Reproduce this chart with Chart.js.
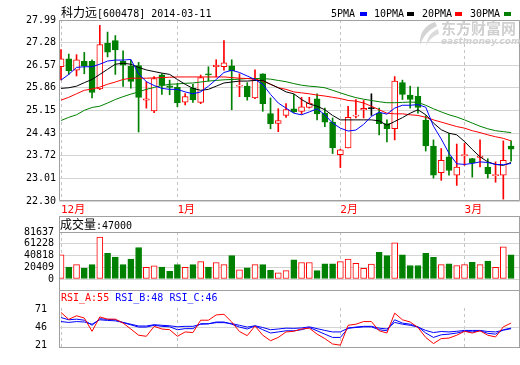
<!DOCTYPE html>
<html>
<head>
<meta charset="utf-8">
<script src="https://cdn.jsdelivr.net/npm/chart.js@4.4.0/dist/chart.umd.min.js"></script>
<style>
  body { margin: 0; background: #fff; }
  #wrap { position: relative; width: 520px; height: 365px; overflow: hidden; }
  canvas { position: absolute; left: 0; }
  .t { position: absolute; font-family: "DejaVu Sans Mono", "Noto Sans CJK SC", monospace; font-size: 10px; line-height: 12px; white-space: pre; color: #000; z-index: 2; }
  .cjk { font-family: "Noto Sans CJK SC"; font-size: 12px; }
  .mk { position: absolute; top: 12px; width: 7px; height: 4px; z-index: 10; }
</style>
</head>
<body>
<div id="wrap">
  <canvas id="price" width="520" height="216" style="top:0"></canvas>
  <canvas id="vol" width="520" height="74" style="top:216px"></canvas>
  <canvas id="rsi" width="520" height="75" style="top:290px"></canvas>

  <div class="t" style="left:61px;top:6px"><span class="cjk">科力远</span>[600478] 2014-03-11</div>

  <div class="t" style="left:331px;top:8px">5PMA</div>
  <div class="t" style="left:374px;top:8px">10PMA</div>
  <div class="t" style="left:422px;top:8px">20PMA</div>
  <div class="t" style="left:470px;top:8px">30PMA</div>
  <div class="mk" style="left:504px;background:#008000"></div>

  <svg style="position:absolute;left:415px;top:21px;z-index:1" width="24" height="26" viewBox="0 0 24 26">
    <path d="M20 1 C10 4 4 12 5 24 C8 16 13 9 22 5 Z" fill="#d4d4d4"/>
    <path d="M23 8 C16 11 12 16 11 25 C14 19 18 15 24 13 Z" fill="#dcdcdc"/>
  </svg>
  <div style="position:absolute;left:441px;top:20px;font:bold 15px 'Noto Sans CJK SC';color:#d0d0d0;line-height:16px;z-index:1">东方财富网</div>
  <div style="position:absolute;left:441px;top:36px;font:italic bold 9px 'DejaVu Sans';color:#d0d0d0;line-height:10px;z-index:1">eastmoney.com</div>

  <div class="t" style="left:60px;top:218px"><span class="cjk">成交量</span>:47000</div>
  <div class="t" style="left:61px;top:292px"><span style="color:#ff0000">RSI_A:55</span> <span style="color:#0000ff">RSI_B:48</span> <span style="color:#0000ff">RSI_C:46</span></div>
</div>

<script>
// 科力远 日K 2013-12-11 ~ 2014-03-11
const opens = [26.52, 26.77, 26.41, 26.69, 26.69, 25.82, 27.26, 27.34, 26.69, 26.54,
  26.56, 25.47, 25.13, 26.27, 25.92, 25.87, 25.41, 25.85, 25.40, 26.30,
  26.52, 26.52, 26.55, 25.91, 25.91, 25.54, 26.30, 25.05, 24.74, 24.99,
  25.20, 25.12, 25.24, 25.51, 25.06, 24.78, 23.76, 23.97, 24.97, 25.16,
  25.22, 25.06, 24.73, 24.57, 26.02, 25.63, 25.59, 24.84, 24.03, 23.19,
  23.69, 23.11, 23.72, 23.63, 23.67, 23.37, 23.10, 23.11, 24.03];
const closes = [26.77, 26.39, 26.74, 26.55, 25.71, 27.22, 26.98, 27.05, 26.57, 26.06,
  25.56, 25.51, 26.15, 25.93, 25.87, 25.39, 25.58, 25.48, 26.18, 26.26,
  26.57, 26.64, 26.39, 25.94, 25.57, 26.14, 25.36, 24.73, 24.83, 25.17,
  25.10, 25.26, 25.38, 25.04, 24.78, 23.97, 23.91, 24.93, 25.00, 25.21,
  25.22, 24.73, 24.57, 26.07, 25.65, 25.49, 25.24, 24.03, 23.11, 23.58,
  23.26, 23.37, 23.76, 23.50, 23.71, 23.16, 23.13, 23.58, 23.93];
const highs = [27.06, 26.92, 26.90, 26.97, 26.74, 27.82, 27.61, 27.50, 27.02, 26.73,
  26.66, 26.05, 26.21, 26.30, 26.10, 26.00, 25.68, 25.97, 26.26, 26.52,
  26.74, 27.34, 26.74, 26.30, 26.02, 26.42, 26.30, 25.54, 25.20, 25.36,
  25.65, 25.56, 25.56, 25.67, 25.22, 24.91, 23.93, 25.28, 25.49, 25.46,
  25.67, 25.22, 24.85, 26.21, 26.10, 25.91, 25.88, 24.98, 24.22, 23.95,
  24.43, 24.09, 24.11, 23.64, 24.22, 23.63, 23.53, 24.19, 24.19];
const lows = [26.11, 26.28, 26.23, 26.30, 25.54, 25.80, 26.83, 26.28, 25.90, 25.85,
  24.47, 25.22, 25.08, 25.65, 25.64, 25.26, 25.32, 25.40, 25.36, 26.07,
  26.20, 26.41, 25.17, 25.58, 25.47, 25.52, 25.12, 24.57, 24.48, 24.93,
  25.08, 25.03, 25.22, 24.85, 24.64, 23.79, 23.35, 23.97, 24.91, 24.91,
  24.99, 24.38, 24.16, 24.22, 25.49, 25.22, 25.06, 23.87, 23.02, 22.95,
  23.11, 22.79, 23.42, 23.05, 23.37, 23.02, 22.89, 22.36, 23.55];

const ma5 = [26.10, 26.28, 26.50, 26.52, 26.52, 26.60, 26.70, 26.73, 26.73, 26.75,
  26.30, 26.05, 25.93, 25.84, 25.81, 25.81, 25.73, 25.67, 25.73, 25.91,
  26.12, 26.34, 26.41, 26.34, 26.23, 26.12, 25.97, 25.65, 25.38, 25.22,
  25.06, 25.01, 25.10, 25.20, 25.01, 24.75, 24.59, 24.50, 24.53, 24.71,
  24.96, 25.09, 25.03, 25.22, 25.31, 25.31, 25.33, 25.25, 24.65, 24.25,
  23.80, 23.47, 23.45, 23.48, 23.53, 23.51, 23.45, 23.44, 23.48];
const ma10 = [25.84, 25.86, 25.91, 26.02, 26.12, 26.28, 26.44, 26.60, 26.63, 26.60,
  26.50, 26.42, 26.37, 26.32, 26.28, 26.12, 25.97, 25.84, 25.78, 25.81,
  25.91, 26.01, 26.04, 26.07, 26.07, 26.09, 26.09, 25.97, 25.86, 25.73,
  25.67, 25.49, 25.35, 25.28, 25.17, 24.99, 24.85, 24.85, 24.85, 24.85,
  24.85, 24.82, 24.68, 24.80, 24.92, 25.06, 25.17, 25.01, 24.75, 24.54,
  24.43, 24.38, 24.17, 23.92, 23.69, 23.53, 23.45, 23.42, 23.51];
const ma20 = [25.47, 25.56, 25.67, 25.78, 25.82, 25.88, 25.97, 26.04, 26.12, 26.16,
  26.16, 26.16, 26.17, 26.18, 26.19, 26.20, 26.20, 26.20, 26.20, 26.20,
  26.20, 26.20, 26.18, 26.16, 26.15, 26.13, 26.07, 25.97, 25.86, 25.81,
  25.73, 25.70, 25.67, 25.63, 25.60, 25.56, 25.52, 25.46, 25.44, 25.38,
  25.28, 25.17, 25.06, 25.04, 25.04, 25.01, 24.99, 24.93, 24.85, 24.78,
  24.71, 24.64, 24.59, 24.51, 24.45, 24.38, 24.32, 24.27, 24.19];
const ma30 = [24.83, 24.93, 25.01, 25.15, 25.24, 25.28, 25.38, 25.49, 25.58, 25.66,
  25.73, 25.81, 25.87, 25.93, 25.97, 25.98, 26.00, 26.01, 26.04, 26.07,
  26.09, 26.11, 26.12, 26.13, 26.15, 26.15, 26.15, 26.13, 26.09, 26.05,
  25.99, 25.94, 25.91, 25.89, 25.86, 25.78, 25.70, 25.62, 25.55, 25.50,
  25.46, 25.42, 25.39, 25.39, 25.40, 25.41, 25.40, 25.31, 25.20, 25.10,
  25.01, 24.94, 24.85, 24.75, 24.65, 24.57, 24.51, 24.48, 24.45];

const volumes = [41900, 20600, 24850, 19170, 24850, 72700, 44700, 38100, 24850, 34800,
  54700, 20200, 23000, 20600, 13500, 24850, 20200, 24850, 30100, 20600,
  28700, 24850, 40500, 15900, 19200, 24850, 24850, 14900, 10650, 14500,
  33400, 28700, 28700, 14500, 26300, 26300, 30100, 34400, 27300, 18700,
  25800, 46150, 40500, 62800, 41900, 23400, 23400, 44700, 37600, 24850,
  26300, 23400, 24850, 29100, 24850, 31000, 20200, 55700, 41900];

const rsiA = [67.0, 57.4, 62.4, 59.3, 40.7, 60.8, 57.7, 57.7, 52.2, 43.9,
  35.2, 33.7, 47.6, 43.9, 42.9, 33.7, 39.8, 38.9, 56.2, 56.2,
  63.6, 64.5, 53.7, 40.4, 34.6, 48.1, 35.2, 27.5, 32.1, 39.8,
  40.7, 43.9, 45.1, 36.7, 30.5, 22.9, 21.3, 49.1, 50.6, 54.3,
  54.3, 41.4, 38.3, 66.1, 56.8, 53.7, 46.0, 32.1, 23.5, 30.5,
  31.2, 35.2, 40.7, 38.3, 41.4, 35.2, 32.8, 46.9, 52.2];
const rsiB = [59.9, 56.8, 57.7, 56.2, 49.1, 58.3, 57.4, 56.8, 52.8, 49.7,
  46.6, 46.6, 49.1, 47.6, 47.0, 42.9, 44.4, 44.4, 51.2, 51.2,
  53.7, 53.7, 50.6, 46.6, 43.9, 48.1, 42.9, 38.3, 39.8, 41.4,
  41.4, 42.9, 46.0, 41.4, 36.7, 32.1, 32.1, 45.1, 46.0, 46.9,
  46.9, 42.9, 41.4, 56.8, 52.2, 50.6, 46.9, 38.3, 32.1, 35.8,
  36.7, 38.3, 40.7, 39.8, 41.4, 37.9, 36.7, 42.9, 45.1];
const rsiC = [54.3, 53.1, 54.3, 53.7, 50.6, 56.8, 55.9, 55.3, 53.1, 50.6,
  48.1, 48.1, 49.9, 49.1, 48.4, 47.0, 47.6, 47.6, 50.6, 51.2,
  52.8, 52.8, 51.5, 49.1, 46.6, 48.4, 46.0, 42.9, 43.9, 45.1,
  44.8, 45.4, 46.9, 44.4, 41.9, 39.8, 39.8, 45.1, 46.6, 47.6,
  47.6, 45.1, 43.9, 53.1, 50.6, 49.1, 46.6, 41.9, 38.9, 40.4,
  39.8, 40.7, 41.9, 41.9, 41.9, 40.4, 39.8, 42.2, 44.4];

const priceTicks = [27.99, 27.28, 26.57, 25.86, 25.15, 24.43, 23.72, 23.01, 22.30];
const volTicks = [0, 20409, 40818, 61228, 81637];
const rsiTicks = [21, 46, 71];
const monthIdx = [0, 15, 36, 52];
const monthNames = ['12月', '1月', '2月', '3月'];
const maColors = ['#0000ff', '#000000', '#ff0000', '#008000'];

const UP = '#ff0000', DOWN = '#008000', FLAT = '#000000';
const X_MIN = -0.258, X_MAX = 59.15;

Chart.defaults.font.family = '"DejaVu Sans Mono", "Noto Sans CJK SC", monospace';
Chart.defaults.font.size = 10;
Chart.defaults.color = '#000';

const colorOf = i => closes[i] > opens[i] ? UP : (closes[i] < opens[i] ? DOWN : FLAT);
const pts = arr => arr.map((v, i) => ({x: i, y: v}));

// x轴 月份虚线
function xAxis(showLabels, h) {
  return {
    type: 'linear', min: X_MIN, max: X_MAX, offset: false,
    afterBuildTicks: s => { s.ticks = monthIdx.map(v => ({value: v})); },
    afterFit: s => { s.height = h; },
    ticks: {
      display: showLabels, autoSkip: false, maxRotation: 0, align: 'start',
      padding: 3, color: UP, font: {size: 11},
      callback: (v, i) => monthNames[i]
    },
    grid: { color: '#c4c4c4', drawTicks: false, offset: false },
    border: { display: false, dash: [3, 3] }
  };
}

function yAxis(min, max, vals, fmt, pad, gridColor) {
  return {
    min: min, max: max,
    afterBuildTicks: s => { s.ticks = vals.map(v => ({value: v})); },
    afterFit: s => { s.width = 59; },
    ticks: { padding: pad, color: '#000', autoSkip: false, callback: fmt },
    grid: { color: gridColor, drawTicks: false },
    border: { display: false }
  };
}

// 边框
function framePlugin(kind) {
  return {
    id: 'frame' + kind,
    afterDraw(chart) {
      const {ctx, chartArea: a, height} = chart;
      const L = a.left + 0.5, R = a.right - 0.5;
      ctx.save();
      ctx.strokeStyle = '#a0a0a0';
      ctx.lineWidth = 1;
      ctx.beginPath();
      if (kind === 'price') {
        ctx.rect(L, a.top + 0.5, a.right - a.left - 1, a.bottom - a.top - 1);
      } else if (kind === 'vol') {
        ctx.moveTo(L, 0); ctx.lineTo(L, height);
        ctx.moveTo(R, 0); ctx.lineTo(R, height);
        ctx.moveTo(a.left, 0.5); ctx.lineTo(a.right, 0.5);
        ctx.moveTo(a.left, a.top + 0.5); ctx.lineTo(a.right, a.top + 0.5);
      } else {
        ctx.moveTo(L, 0); ctx.lineTo(L, a.bottom + 1);
        ctx.moveTo(R, 0); ctx.lineTo(R, a.bottom + 1);
        ctx.moveTo(a.left, 0.5); ctx.lineTo(a.right, 0.5);
        ctx.moveTo(a.left, a.bottom + 0.5); ctx.lineTo(a.right, a.bottom + 0.5);
      }
      ctx.stroke();
      // 均线图例色块
      if (kind === 'price') {
        [360, 407, 455, 504].forEach((x, k) => {
          ctx.fillStyle = maColors[k];
          ctx.fillRect(x, 12, 7, 4);
        });
      }
      ctx.restore();
    }
  };
}

const common = {
  responsive: false,
  animation: false,
  events: [],
  plugins: { legend: { display: false }, tooltip: { enabled: false } }
};

function maLine(data, color, order) {
  return { type: 'line', data: pts(data), borderColor: color, borderWidth: 1,
           pointRadius: 0, tension: 0, fill: false, order: order };
}

// 主图 K线
const bodies = opens.map((o, i) => {
  const c = closes[i];
  return { x: i, y: o === c ? [o - 0.015, o + 0.015] : [o, c] };
});
const wicks = lows.map((l, i) => ({ x: i, y: [l, highs[i]] }));
const candleCols = opens.map((o, i) => colorOf(i));

new Chart(document.getElementById('price'), {
  type: 'bar',
  data: {
    datasets: [
      maLine(ma5, maColors[0], 1),
      maLine(ma10, maColors[1], 2),
      maLine(ma20, maColors[2], 3),
      maLine(ma30, maColors[3], 4),
      { data: bodies, grouped: false, barThickness: 6, borderWidth: 1, borderSkipped: false,
        borderColor: candleCols,
        backgroundColor: candleCols.map(c => c === UP ? '#ffffff' : c), order: 5 },
      { data: wicks, grouped: false, barThickness: 1, borderWidth: 0,
        backgroundColor: candleCols, order: 6 }
    ]
  },
  options: Object.assign({}, common, {
    layout: { padding: { top: 20, right: 0, bottom: 0, left: 0 } },
    scales: {
      x: xAxis(true, 15),
      y: yAxis(22.30, 27.99, priceTicks, v => v.toFixed(2), 3, '#d4d4d4')
    }
  }),
  plugins: [framePlugin('price')]
});

// 成交量
const volCols = opens.map((o, i) => closes[i] >= o ? UP : DOWN);
new Chart(document.getElementById('vol'), {
  type: 'bar',
  data: {
    datasets: [{
      data: pts(volumes), barThickness: 6, borderWidth: 1, borderSkipped: false,
      borderColor: volCols,
      backgroundColor: volCols.map(c => c === UP ? '#ffffff' : c)
    }]
  },
  options: Object.assign({}, common, {
    layout: { padding: { top: 16, right: 0, bottom: 0, left: 0 } },
    scales: {
      x: xAxis(false, 0),
      y: yAxis(0, 81637, volTicks, v => String(v), 5, '#d4d4d4')
    }
  }),
  plugins: [framePlugin('vol')]
});

// RSI
new Chart(document.getElementById('rsi'), {
  type: 'line',
  data: {
    datasets: [
      maLine(rsiA, '#ff0000', 1),
      maLine(rsiB, '#0000ff', 2),
      maLine(rsiC, '#0000ff', 3)
    ]
  },
  options: Object.assign({}, common, {
    layout: { padding: { top: 15, right: 0, bottom: 1, left: 0 } },
    scales: {
      x: xAxis(false, 0),
      y: yAxis(18.7, 73.3, rsiTicks, v => String(v), 12,
        ctx => (ctx.tick && ctx.tick.value === 46) ? '#d4d4d4' : 'rgba(0,0,0,0)')
    }
  }),
  plugins: [framePlugin('rsi')]
});
</script>
</body>
</html>
